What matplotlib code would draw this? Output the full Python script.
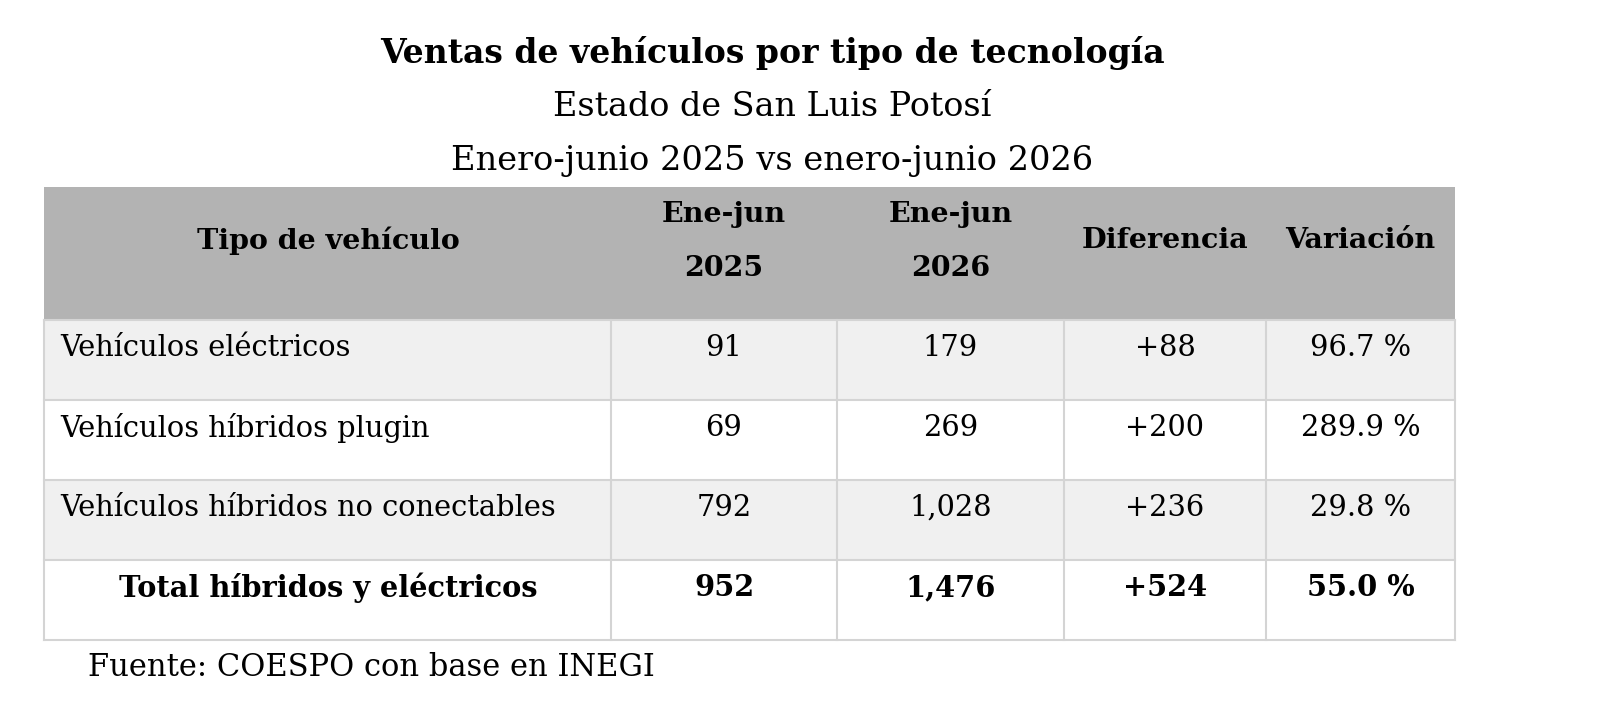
import matplotlib.pyplot as plt
from matplotlib.patches import Rectangle

title = "Ventas de vehículos por tipo de tecnología"
subtitle = "Estado de San Luis Potosí"
period = "Enero-junio 2025 vs enero-junio 2026"
source = "Fuente: COESPO con base en INEGI"

headers = ["Tipo de vehículo", "Ene-jun\n2025", "Ene-jun\n2026", "Diferencia", "Variación"]
tipos = ["Vehículos eléctricos", "Vehículos híbridos plugin",
         "Vehículos híbridos no conectables", "Total híbridos y eléctricos"]
ventas_2025 = [91, 69, 792, 952]
ventas_2026 = [179, 269, 1028, 1476]
diferencia = [88, 200, 236, 524]
variacion = [96.7, 289.9, 29.8, 55.0]

font = "DejaVu Serif"

# table layout in pixels
col_edges = [44, 611, 837, 1064, 1266, 1455]
header_top, header_bot = 187, 320
row_h = 80

fig = plt.figure(figsize=(16, 7.16), dpi=100)
ax = fig.add_axes([0, 0, 1, 1])
ax.set_xlim(0, 1600)
ax.set_ylim(716, 0)
ax.axis("off")

ax.text(772, 53, title, ha="center", va="center", fontsize=23.8, fontweight="bold", family=font)
ax.text(772, 107, subtitle, ha="center", va="center", fontsize=24, family=font)
ax.text(772, 161, period, ha="center", va="center", fontsize=24.2, family=font)

# header
ax.add_patch(Rectangle((col_edges[0], header_top), col_edges[-1] - col_edges[0],
                       header_bot - header_top, color="#b3b3b3", lw=0))
for j, h in enumerate(headers):
    xc = (col_edges[j] + col_edges[j + 1]) / 2
    if j == 0:
        xc = 328
    lines = h.split("\n")
    ys = [241] if len(lines) == 1 else [215, 268]
    for line, y in zip(lines, ys):
        ax.text(xc, y, line, ha="center", va="center", fontsize=20.5,
                fontweight="bold", family=font)

rows = []
for i in range(len(tipos)):
    rows.append([tipos[i], f"{ventas_2025[i]:,}", f"{ventas_2026[i]:,}",
                 f"+{diferencia[i]:,}", f"{variacion[i]:.1f} %"])

for i, r in enumerate(rows):
    top = header_bot + i * row_h
    bg = "#f0f0f0" if i % 2 == 0 else "white"
    ax.add_patch(Rectangle((col_edges[0], top), col_edges[-1] - col_edges[0], row_h,
                           color=bg, lw=0))
    total = i == len(rows) - 1
    for j, val in enumerate(r):
        if j == 0 and not total:
            x, ha = 60, "left"
        elif j == 0:
            x, ha = 328, "center"
        else:
            x, ha = (col_edges[j] + col_edges[j + 1]) / 2, "center"
        ax.text(x, top + 28, val, ha=ha, va="center", fontsize=20.8, family=font,
                fontweight="bold" if total else "normal")

# grid lines
grid = "#d4d4d4"
bottom = header_bot + len(rows) * row_h
for k in range(len(rows) + 1):
    y = header_bot + k * row_h
    ax.plot([col_edges[0], col_edges[-1]], [y, y], color=grid, lw=1.5)
for x in col_edges:
    ax.plot([x, x], [header_bot, bottom], color=grid, lw=1.5)

ax.text(88, 668, source, ha="left", va="center", fontsize=22, family=font)

fig.savefig("out.png", dpi=100, facecolor="white")
